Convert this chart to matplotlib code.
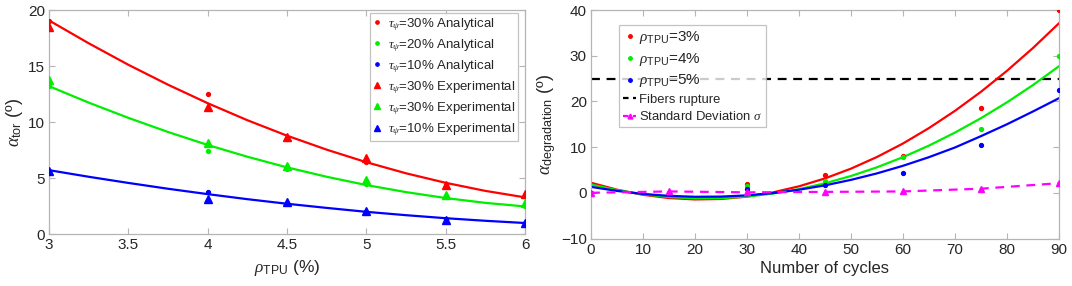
import numpy as np
import matplotlib
matplotlib.use("Agg")
import matplotlib.pyplot as plt
from matplotlib.lines import Line2D

plt.rcParams['font.family'] = ['Liberation Sans', 'DejaVu Sans']
plt.rcParams['mathtext.fontset'] = 'custom'
plt.rcParams['mathtext.rm'] = 'Liberation Sans'
plt.rcParams['mathtext.it'] = 'Liberation Serif:italic'
plt.rcParams['mathtext.default'] = 'it'

# ---------------- Left panel data ----------------
rho_pts = [3.0, 4.0, 4.5, 5.0, 5.5, 6.0]
an30 = [19.0, 12.5, 8.5, 6.4, 4.4, 3.5]
an20 = [13.2, 7.45, 5.8, 4.5, 3.3, 2.5]
an10 = [5.6, 3.75, 2.75, 2.0, 1.3, 1.0]
ex30 = [18.5, 11.3, 8.7, 6.8, 4.4, 3.6]
ex20 = [13.75, 8.15, 6.05, 4.85, 3.45, 2.8]
ex10 = [5.65, 3.15, 2.9, 2.05, 1.28, 1.0]

rho_curve = [3.0, 3.25, 3.5, 3.75, 4.0, 4.25, 4.5, 4.75, 5.0, 5.25, 5.5, 5.75, 6.0]
fit30 = [19.07, 17.03, 15.11, 13.33, 11.68, 10.16, 8.78, 7.53, 6.41, 5.42, 4.57, 3.85, 3.27]
fit20 = [13.2, 11.73, 10.37, 9.11, 7.95, 6.90, 5.95, 5.11, 4.37, 3.74, 3.21, 2.78, 2.46]
fit10 = [5.7, 5.11, 4.56, 4.04, 3.56, 3.11, 2.70, 2.33, 1.98, 1.68, 1.41, 1.18, 0.98]

left_labels_an = [r'$\tau_{\psi}$=30% Analytical', r'$\tau_{\psi}$=20% Analytical',
                  r'$\tau_{\psi}$=10% Analytical']
left_labels_ex = [r'$\tau_{\psi}$=30% Experimental', r'$\tau_{\psi}$=30% Experimental',
                  r'$\tau_{\psi}$=10% Experimental']

# ---------------- Right panel data ----------------
cyc_pts = [0, 15, 30, 45, 60, 75, 90]
deg3 = [0.0, 0.0, 1.9, 3.8, 8.0, 18.6, 40.0]
deg4 = [0.0, 0.0, 1.4, 2.5, 7.9, 13.9, 30.0]
deg5 = [0.0, 0.0, 0.9, 1.8, 4.4, 10.4, 22.5]
std_dev = [0.0, 0.3, 0.1, 0.2, 0.3, 0.9, 2.1]
rupture = 25

cyc_curve = [0, 5, 10, 15, 20, 25, 30, 35, 40, 45, 50, 55, 60, 65, 70, 75, 80, 85, 90]
cfit3 = [2.20, 0.68, -0.44, -1.15, -1.45, -1.35, -0.84, 0.09, 1.42, 3.15, 5.29, 7.84,
         10.79, 14.17, 17.94, 22.11, 26.70, 31.69, 37.1]
cfit4 = [1.80, 0.58, -0.33, -0.92, -1.20, -1.17, -0.83, -0.17, 0.80, 2.08, 3.68, 5.58,
         7.80, 10.33, 13.18, 16.33, 19.80, 23.58, 27.7]
cfit5 = [1.30, 0.41, -0.25, -0.67, -0.87, -0.83, -0.56, -0.06, 0.67, 1.63, 2.83, 4.25,
         5.91, 7.80, 9.92, 12.4, 15.0, 17.8, 20.7]

right_labels = [r'$\rho_{\mathrm{TPU}}$=3%', r'$\rho_{\mathrm{TPU}}$=4%',
                r'$\rho_{\mathrm{TPU}}$=5%', 'Fibers rupture',
                r'Standard Deviation $\sigma$']

RED, GREEN, BLUE, MAG = '#ff0000', '#00ee00', '#0000ff', '#ff00ff'
SPINE = '#b5b5b5'
TXT = '#262626'

fig = plt.figure(figsize=(10.72, 2.86), dpi=100)
ax1 = fig.add_axes([49/1072, 1-234/286, 476/1072, 224/286])
ax2 = fig.add_axes([591/1072, 1-238.5/286, 468/1072, 228.5/286])


def style(ax):
    for s in ax.spines.values():
        s.set_color(SPINE)
        s.set_linewidth(0.9)
    ax.tick_params(direction='in', length=4, width=0.8, color=SPINE,
                   top=True, right=True, labelsize=11, labelcolor=TXT, pad=3)


# Left
cols = [RED, GREEN, BLUE]
for c, fit in zip(cols, [fit30, fit20, fit10]):
    ax1.plot(rho_curve, fit, color=c, lw=1.6, zorder=2)
for c, d, lab in zip(cols, [an30, an20, an10], left_labels_an):
    ax1.plot(rho_pts, d, ls='none', marker='o', ms=2.8, color=c, label=lab, zorder=3)
for c, d, lab in zip(cols, [ex30, ex20, ex10], left_labels_ex):
    ax1.plot(rho_pts, d, ls='none', marker='^', ms=5.5, color=c, label=lab, zorder=3)
ax1.set_xlim(3, 6)
ax1.set_ylim(0, 20)
ax1.set_xticks([3, 3.5, 4, 4.5, 5, 5.5, 6])
ax1.set_xticklabels(['3', '3.5', '4', '4.5', '5', '5.5', '6'])
ax1.set_yticks([0, 5, 10, 15, 20])
style(ax1)
ax1.set_xlabel(r'$\rho_{\mathrm{TPU}}$ (%)', fontsize=12.5, color=TXT, labelpad=4)
ax1.set_ylabel(r'$\alpha_{\mathrm{tor}}$ (º)', fontsize=13, color=TXT, labelpad=2)
leg1 = ax1.legend(loc='upper right', bbox_to_anchor=(0.986, 0.988), borderaxespad=0,
                  fontsize=9.5, handlelength=0.6, handletextpad=0.5, labelspacing=0.33,
                  frameon=True, fancybox=False, edgecolor=SPINE, borderpad=0.25,
                  markerscale=0.85)
leg1.get_frame().set_linewidth(0.9)
for t in leg1.get_texts():
    t.set_color(TXT)

# Right
ax2.axhline(rupture, color='black', ls=(0, (4, 3)), lw=1.6, zorder=1)
for c, fit in zip(cols, [cfit3, cfit4, cfit5]):
    ax2.plot(cyc_curve, fit, color=c, lw=1.6, zorder=2)
for c, d in zip(cols, [deg3, deg4, deg5]):
    ax2.plot(cyc_pts, d, ls='none', marker='o', ms=2.8, color=c, zorder=3)
ax2.plot(cyc_pts, std_dev, color=MAG, ls=(0, (4, 3)), lw=1.6, marker='^', ms=5,
         zorder=4)
ax2.set_xlim(0, 90)
ax2.set_ylim(-10, 40)
ax2.set_xticks(range(0, 91, 10))
ax2.set_yticks([-10, 0, 10, 20, 30, 40])
style(ax2)
ax2.set_xlabel('Number of cycles', fontsize=12, color=TXT, labelpad=3)
ax2.set_ylabel(r'$\alpha_{\mathrm{degradation}}$ (º)', fontsize=13, color=TXT, labelpad=2)
handles = [Line2D([], [], ls='none', marker='o', ms=2.5, color=RED),
           Line2D([], [], ls='none', marker='o', ms=2.5, color=GREEN),
           Line2D([], [], ls='none', marker='o', ms=2.5, color=BLUE),
           Line2D([], [], color='black', ls=(0, (2.5, 2)), lw=1.6),
           Line2D([], [], color=MAG, ls=(0, (2.5, 2)), lw=1.6, marker='^', ms=3.5)]
leg2 = ax2.legend(handles, right_labels, loc='upper left', bbox_to_anchor=(0.06, 0.934),
                  borderaxespad=0, fontsize=9.4, handlelength=1.0, handletextpad=0.25,
                  labelspacing=0.35, frameon=True, fancybox=False, edgecolor=SPINE,
                  borderpad=0.3)
leg2.get_frame().set_linewidth(0.9)
for i, t in enumerate(leg2.get_texts()):
    t.set_color(TXT)
    if i < 3:
        t.set_fontsize(11)

fig.savefig('out.png', dpi=100)
